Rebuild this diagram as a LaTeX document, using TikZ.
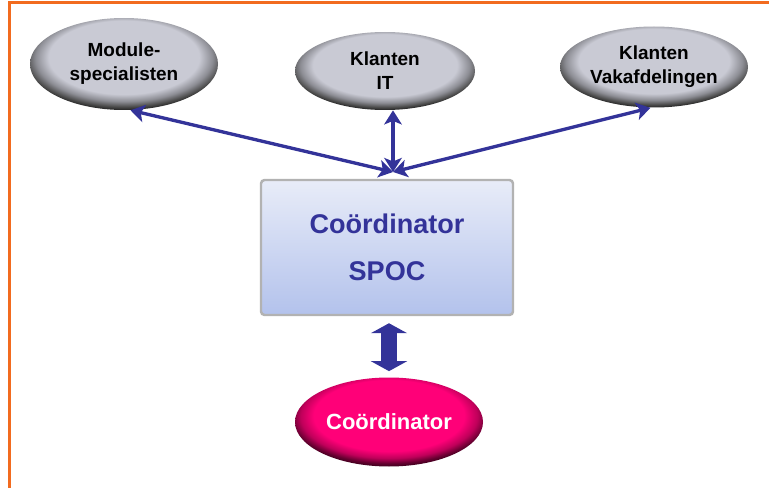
\documentclass[tikz,border=0pt]{standalone}
\usepackage{fontspec}
\setmainfont{Liberation Sans}
\usepackage{xcolor}
\usepackage{tikz}
\usetikzlibrary{shapes.geometric,arrows.meta}

\definecolor{frameorange}{HTML}{F26B1F}
\definecolor{spocblue}{HTML}{333399}
\definecolor{ellgrey}{HTML}{C9CAD4}
\definecolor{ellpink}{HTML}{FF0078}
\definecolor{boxtop}{HTML}{E8ECF8}
\definecolor{boxbot}{HTML}{B3C2EC}

% Bevelled look of the ellipses (edge of the path is at 25bp)
\pgfdeclareradialshading{greybevel}{\pgfpoint{0bp}{6bp}}{color(0bp)=(ellgrey); color(20bp)=(ellgrey); color(23.5bp)=(ellgrey!70!black); color(26bp)=(black!70); color(28bp)=(black!90); color(50bp)=(black)}
\pgfdeclareradialshading{pinkbevel}{\pgfpoint{0bp}{6bp}}{color(0bp)=(ellpink); color(20bp)=(ellpink); color(23.5bp)=(ellpink!75!black); color(26bp)=(ellpink!40!black); color(28bp)=(ellpink!20!black); color(50bp)=(black)}

\begin{document}
\begin{tikzpicture}[
  klant/.style={ellipse, shading=greybevel, inner sep=0pt, align=center, font=\fontsize{10.8}{13.6}\selectfont\bfseries},
  pijl/.style={spocblue, line width=1.9pt, {Stealth[length=8pt,width=10pt,inset=2pt]}-{Stealth[length=8pt,width=10pt,inset=2pt]}},
  blokpijl/.style={spocblue, line width=0.32cm, {Triangle[length=0.2cm,width=0.72cm]}-{Triangle[length=0.2cm,width=0.72cm]}}
]

% Picture size
\useasboundingbox (0,0) rectangle (15.38,-9.76);

% Orange frame, top and left
\draw[frameorange, line width=0.06cm] (0.19,-9.9) -- (0.19,-0.06) -- (15.5,-0.06);

% Parties on top
\node[klant, minimum width=3.76cm, minimum height=1.84cm] (mod) at (2.48,-1.28) {Module-\\specialisten};
\node[klant, minimum width=3.6cm, minimum height=1.56cm] (it) at (7.70,-1.42) {Klanten\\IT};
\node[klant, minimum width=3.76cm, minimum height=1.62cm] (vak) at (13.08,-1.34) {Klanten\\Vakafdelingen};

% Central box
\node[rectangle, rounded corners=2pt, draw=black!30, line width=1.4pt, top color=boxtop, bottom color=boxbot,
  minimum width=5.04cm, minimum height=2.7cm, align=center, text=spocblue,
  font=\fontsize{15.4}{27}\selectfont\bfseries] (spoc) at (7.74,-4.95) {Coördinator\\SPOC};

% Coordinator at the bottom
\node[ellipse, shading=pinkbevel, inner sep=0pt, minimum width=3.76cm, minimum height=1.78cm, text=white,
  font=\fontsize{12.5}{15}\selectfont\bfseries] (coord) at (7.78,-8.44) {Coördinator};

% Meeting point of the thin arrows
\coordinate (hub) at (7.86,-3.44);

% Thin arrows
\draw[pijl] (mod.-82) -- (hub);
\draw[pijl] (it.south -| hub) -- (hub);
\draw[pijl] (vak.-95) -- (hub);

% Block arrow
\draw[blokpijl, shorten <=0.14cm, shorten >=0.12cm] (spoc.south -| coord) -- (coord.north);

\end{tikzpicture}
\end{document}
